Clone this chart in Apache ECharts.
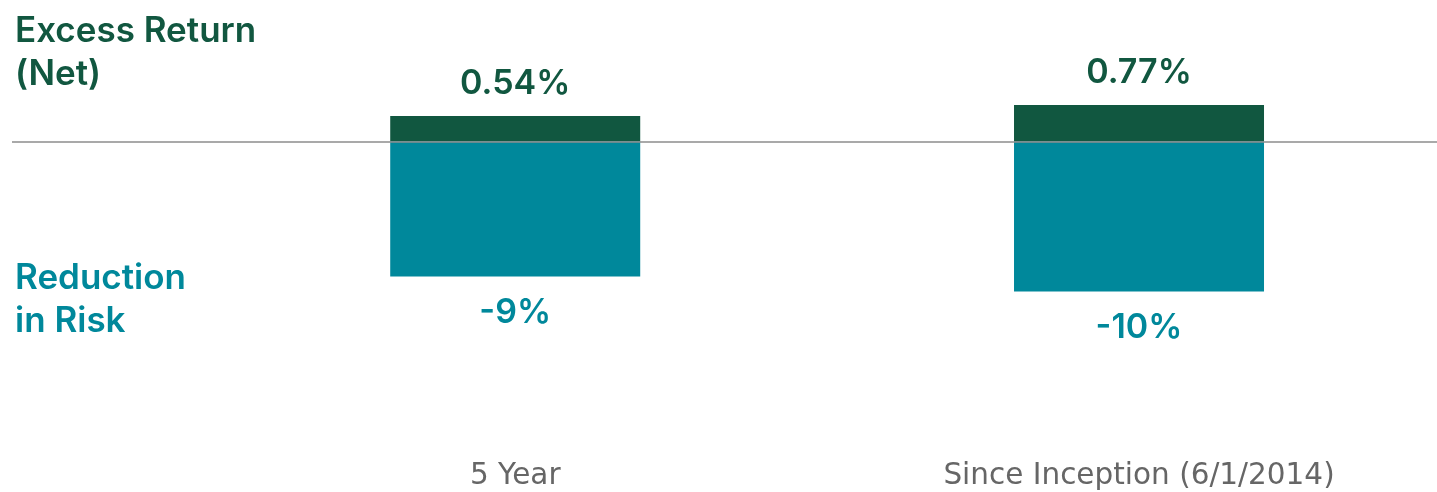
<!DOCTYPE html>
<html>
<head>
<meta charset="utf-8">
<script src="https://cdn.jsdelivr.net/npm/echarts@6/dist/echarts.min.js"></script>
<style>
html,body{margin:0;padding:0;background:#fff;}
#chart{width:1437px;height:492px;}
</style>
</head>
<body>
<div id="chart"></div>
<script>
const categories = ['5 Year', 'Since Inception (6/1/2014)'];
const excessReturn = [0.54, 0.77];
const riskReduction = [-9, -10];
const excessLabels = ['0.54%', '0.77%'];
const riskLabels = ['-9%', '-10%'];

const GREEN = '#115740';
const TEAL = '#00889b';
const FONT = 'Inter';
const AXIS_FONT = 'DejaVu Sans';

const catIdx = categories.map((c, i) => i);

const chart = echarts.init(document.getElementById('chart'), null, {renderer: 'canvas'});
const option = {
  animation: false,
  backgroundColor: '#ffffff',
  textStyle: {fontFamily: FONT},
  title: [
    {text: 'Excess Return\n(Net)', left: 15, top: 10, padding: 0,
     textStyle: {fontFamily: FONT, fontSize: 35, fontWeight: 600, color: GREEN, lineHeight: 43}},
    {text: 'Reduction\nin Risk', left: 15, top: 257, padding: 0,
     textStyle: {fontFamily: FONT, fontSize: 35, fontWeight: 600, color: TEAL, lineHeight: 43}}
  ],
  grid: {left: 12, right: 0, top: 21.5, height: 420, containLabel: false},
  xAxis: {
    type: 'value', min: -0.8067, max: 1.4777,
    splitLine: {show: false},
    axisLine: {show: false}, axisTick: {show: false},
    axisLabel: {
      customValues: catIdx,
      formatter: v => categories[Math.round(v)] || '',
      fontFamily: AXIS_FONT, fontSize: 29.5, fontWeight: 400, color: '#666666', margin: 20
    }
  },
  yAxis: [
    {type: 'value', min: -6.342, max: 2.537, show: false, splitLine: {show: false}},
    {type: 'value', min: -20, max: 8, show: false, splitLine: {show: false}}
  ],
  series: [
    {
      name: 'Excess Return (Net)', type: 'bar', yAxisIndex: 0,
      data: excessReturn.map((v, i) => [catIdx[i], v]), barWidth: 250, barGap: '-100%',
      itemStyle: {color: GREEN},
      label: {show: true, position: 'top', distance: 15,
        formatter: p => excessLabels[p.dataIndex],
        fontFamily: FONT, fontSize: 34, fontWeight: 600, color: GREEN}
    },
    {
      name: 'Reduction in Risk', type: 'bar', yAxisIndex: 1,
      data: riskReduction.map((v, i) => [catIdx[i], v]), barWidth: 250, barGap: '-100%',
      itemStyle: {color: TEAL},
      label: {show: true, position: 'bottom', distance: 19,
        formatter: p => riskLabels[p.dataIndex],
        fontFamily: FONT, fontSize: 34, fontWeight: 600, color: TEAL},
      markLine: {
        silent: true, symbol: 'none', z: 10,
        label: {show: false},
        lineStyle: {color: '#8c8c8c', width: 1.5, type: 'solid'},
        data: [{yAxis: 0}]
      }
    }
  ]
};
chart.setOption(option);
</script>
</body>
</html>
